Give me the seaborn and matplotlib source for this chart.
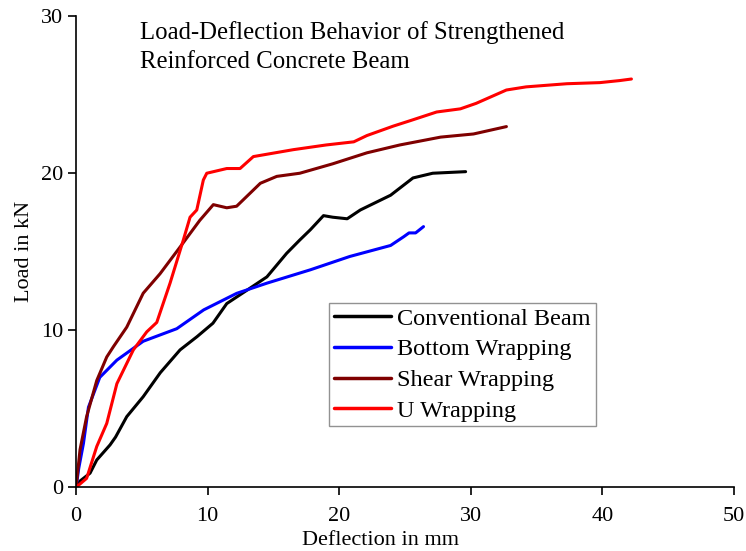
import matplotlib
matplotlib.use('Agg')
import matplotlib.pyplot as plt
import seaborn as sns
import pandas as pd

# Load-deflection readings
conv_x = [0, 0.3, 1.06, 1.57, 2.58, 3.0, 3.85, 5.1, 6.4, 7.9, 9.2, 10.4, 11.45, 13.0, 14.5, 16.0,
          17.0, 17.8, 18.8, 19.5, 20.6, 21.6, 23.9, 25.6, 27.1, 29.6]
conv_y = [0, 0.4, 0.9, 1.74, 2.7, 3.2, 4.5, 5.77, 7.3, 8.75, 9.6, 10.45, 11.7, 12.56, 13.4, 14.9,
          15.75, 16.4, 17.3, 17.2, 17.1, 17.66, 18.6, 19.7, 20.0, 20.1]

bottom_x = [0, 0.2, 0.56, 0.94, 1.8, 3.1, 5.1, 7.65, 9.7, 12.2, 14.5, 17.8, 20.8, 23.9, 24.9,
            25.3, 25.8, 26.4]
bottom_y = [0, 1.2, 2.8, 5.1, 7.0, 8.1, 9.3, 10.1, 11.3, 12.35, 13.0, 13.85, 14.7, 15.4, 15.96,
            16.2, 16.2, 16.6]

shear_x = [0, 0.3, 0.8, 1.57, 2.33, 2.84, 3.85, 5.1, 6.38, 7.9, 9.4, 10.43, 11.45, 12.2, 14.0,
           15.25, 17.0, 19.5, 22.1, 24.6, 27.7, 30.2, 32.7]
shear_y = [0, 2.4, 4.5, 6.8, 8.3, 8.96, 10.2, 12.36, 13.6, 15.3, 17.0, 18.0, 17.8, 17.9, 19.36,
           19.8, 20.0, 20.6, 21.3, 21.8, 22.3, 22.5, 22.97]

u_x = [0, 0.8, 1.57, 2.33, 3.1, 4.35, 5.37, 6.13, 7.14, 8.15, 8.66, 9.17, 9.67, 9.93, 11.45,
       12.46, 13.47, 16.5, 19.0, 21.1, 22.1, 24.1, 25.4, 27.4, 29.2, 30.4, 32.7, 34.2, 37.3,
       39.8, 41.3, 42.2]
u_y = [0, 0.57, 2.6, 4.07, 6.6, 8.75, 9.9, 10.5, 13.0, 15.75, 17.2, 17.66, 19.57, 20.0, 20.3,
       20.3, 21.06, 21.5, 21.8, 22.0, 22.4, 23.0, 23.35, 23.9, 24.1, 24.45, 25.3, 25.5, 25.7,
       25.77, 25.9, 26.0]

series = ['Conventional Beam', 'Bottom Wrapping', 'Shear Wrapping', 'U Wrapping']
colors = ['#000000', '#0000ff', '#7f0000', '#ff0000']

frames = []
for name, xs, ys in zip(series,
                        [conv_x, bottom_x, shear_x, u_x],
                        [conv_y, bottom_y, shear_y, u_y]):
    frames.append(pd.DataFrame({'Deflection': xs, 'Load': ys, 'Beam': name}))
df = pd.concat(frames, ignore_index=True)

sns.set_style('ticks')
plt.rcParams['font.family'] = ['Liberation Serif', 'DejaVu Serif']
plt.rcParams['text.color'] = 'black'
plt.rcParams['axes.labelcolor'] = 'black'

fig = plt.figure(figsize=(7.46, 5.51), dpi=100)
ax = fig.add_axes([0.102, 0.1156, 0.882, 0.855])

sns.lineplot(data=df, x='Deflection', y='Load', hue='Beam', hue_order=series,
             palette=dict(zip(series, colors)), sort=False, estimator=None,
             linewidth=2.2, ax=ax)

ax.set_xlim(0, 50)
ax.set_ylim(0, 30)
ax.set_xticks([0, 10, 20, 30, 40, 50])
ax.set_yticks([0, 10, 20, 30])
ax.tick_params(direction='out', length=6, width=1.2, labelsize=16, colors='black')
ax.tick_params(axis='x', pad=8)
for side in ['top', 'right']:
    ax.spines[side].set_visible(False)
for side in ['left', 'bottom']:
    ax.spines[side].set_linewidth(1.2)
    ax.spines[side].set_color('black')

ax.set_xlabel('Deflection in mm', fontsize=16)
ax.set_ylabel('Load in kN', fontsize=16)
ax.xaxis.set_label_coords(0.462, -0.093)
ax.yaxis.set_label_coords(-0.064, 0.5)

ax.text(0.097, 0.99, 'Load-Deflection Behavior of Strengthened\nReinforced Concrete Beam',
        transform=ax.transAxes, fontsize=17.8, va='top', ha='left', linespacing=1.42)

leg = ax.legend(loc='upper left', bbox_to_anchor=(0.385, 0.391), fontsize=17.5,
                frameon=True, fancybox=False, handlelength=2.35, handletextpad=0.25,
                borderpad=0.2, labelspacing=0.35, borderaxespad=0)
leg.get_frame().set_edgecolor('#777777')
leg.get_frame().set_linewidth(1.0)
for line in leg.get_lines():
    line.set_linewidth(2.5)

fig.savefig('out.png', dpi=100)
